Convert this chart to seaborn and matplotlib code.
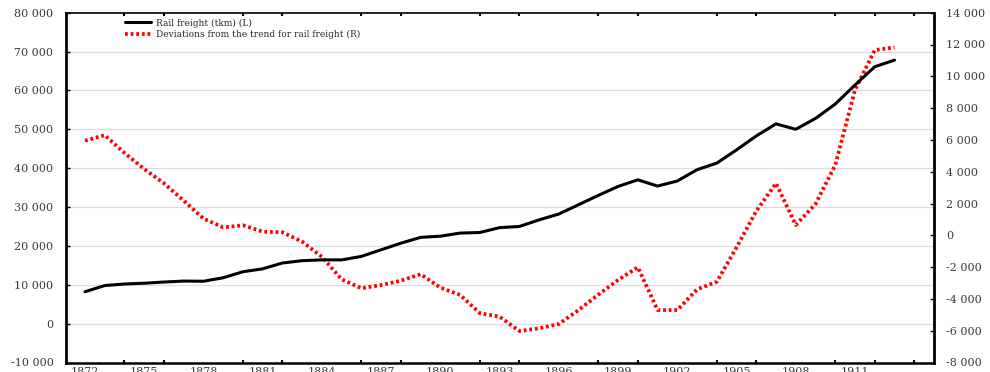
import matplotlib
matplotlib.use("Agg")
import matplotlib.pyplot as plt
from matplotlib.ticker import FixedLocator, FuncFormatter
import seaborn as sns
import pandas as pd

years = list(range(1872, 1914))
rail_freight = [8200, 9800, 10200, 10400, 10700, 10950, 10900, 11800, 13350, 14100,
                15600, 16200, 16400, 16400, 17300, 19000, 20700, 22200, 22500, 23300,
                23450, 24700, 25000, 26700, 28200, 30600, 33000, 35300, 37000, 35400,
                36700, 39600, 41300, 44700, 48300, 51400, 50000, 52800, 56500, 61400,
                66100, 67800]
deviations = [5950, 6300, 5180, 4170, 3270, 2180, 1050, 500, 630, 230,
              190, -400, -1350, -2770, -3330, -3130, -2850, -2450, -3290, -3750,
              -4900, -5120, -6020, -5850, -5580, -4700, -3730, -2810, -2010, -4700,
              -4700, -3400, -2920, -760, 1530, 3270, 650, 1970, 4420, 9140,
              11650, 11820]
x_labels = [str(y) for y in range(1872, 1912, 3)]
left_ticks = list(range(-10000, 80001, 10000))
right_ticks = list(range(-8000, 14001, 2000))
label_rail = "Rail freight (tkm) (L)"
label_dev = "Deviations from the trend for rail freight (R)"

df = pd.DataFrame({"year": years, "rail": rail_freight, "dev": deviations})

sns.set_style("white")
plt.rcParams["font.family"] = ["DejaVu Serif"]

W, H = 990, 372
fig = plt.figure(figsize=(W / 100, H / 100), dpi=100)
ax = fig.add_axes([66 / W, (H - 362.5) / H, (934 - 66) / W, (362.5 - 12.7) / H])
ax2 = ax.twinx()

tick_color = "#3a3a3a"

def thousands(v, pos=None):
    v = int(round(v))
    s = f"{abs(v):,}".replace(",", " ")
    return ("-" if v < 0 else "") + s

ax.set_zorder(2)
ax.patch.set_visible(False)
ax2.set_zorder(1)

sns.lineplot(data=df, x="year", y="rail", ax=ax, color="black", linewidth=2.2,
             label=label_rail, legend=False)
sns.lineplot(data=df, x="year", y="dev", ax=ax2, color="#ff0000", linewidth=2.7,
             label=label_dev, legend=False)
ax2.lines[0].set_linestyle((0, (0.75, 0.75)))
ax2.lines[0].set_dash_capstyle("butt")

ax.set_xlim(1871.04, 1915.0)
ax.set_ylim(-10000, 80000)
ax2.set_ylim(-8000, 14000)

ax.yaxis.set_major_locator(FixedLocator(left_ticks))
ax.yaxis.set_major_formatter(FuncFormatter(thousands))
ax2.yaxis.set_major_locator(FixedLocator(right_ticks))
ax2.yaxis.set_major_formatter(FuncFormatter(thousands))

ax.xaxis.set_major_locator(FixedLocator([int(s) for s in x_labels]))
ax.set_xticklabels(x_labels)
ax.xaxis.set_minor_locator(FixedLocator(list(range(1872, 1915, 2))))

ax.set_xlabel("")
ax.set_ylabel("")
ax2.set_ylabel("")

ax2.grid(False)
ax.grid(False)
for yv in left_ticks[1:-1]:
    ax2.axhline(-8000 + (yv + 10000) * 22000 / 90000, color="#dcdcdc", lw=0.9, zorder=0)

ax.tick_params(axis="y", direction="in", length=3, width=1, labelsize=8,
               labelcolor=tick_color, pad=9, color="black")
ax2.tick_params(axis="y", direction="in", length=3, width=1, labelsize=8,
                labelcolor=tick_color, pad=9, color="black")
ax.tick_params(axis="x", which="major", length=0, labelsize=8, labelcolor=tick_color, pad=3)
ax.tick_params(axis="x", which="minor", direction="in", length=2, width=1.5,
               color="black", top=True, bottom=True)
ax2.tick_params(axis="x", which="both", length=0)

for a in (ax, ax2):
    for side in ("left", "right", "bottom", "top"):
        a.spines[side].set_visible(True)
        a.spines[side].set_color("black")
ax.spines["left"].set_linewidth(2.0)
ax2.spines["right"].set_linewidth(2.0)
ax.spines["bottom"].set_linewidth(1.8)
ax.spines["top"].set_linewidth(1.2)
ax2.spines["left"].set_visible(False)
ax2.spines["bottom"].set_visible(False)
ax2.spines["top"].set_visible(False)
ax.spines["right"].set_visible(False)

h1, l1 = ax.get_legend_handles_labels()
h2, l2 = ax2.get_legend_handles_labels()
leg = ax.legend(h1 + h2, l1 + l2, loc="upper left",
                bbox_to_anchor=(125 / W, (H - 18.5) / H), bbox_transform=fig.transFigure,
                frameon=False, fontsize=6.5, handlelength=2.9, handletextpad=0.55,
                labelspacing=0.3, borderpad=0, borderaxespad=0)

fig.savefig("out.png", dpi=100)
